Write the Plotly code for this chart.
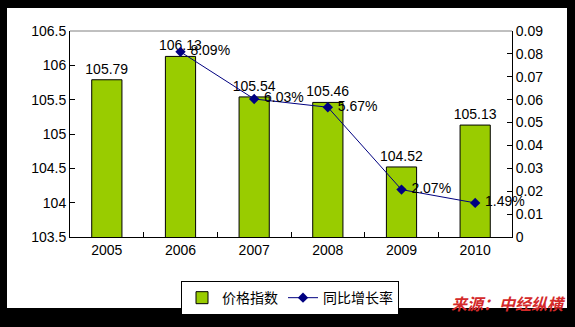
import plotly.graph_objects as go

years = ["2005", "2006", "2007", "2008", "2009", "2010"]
price_index = [105.79, 106.13, 105.54, 105.46, 104.52, 105.13]
growth_years = ["2006", "2007", "2008", "2009", "2010"]
growth_rate = [0.0809, 0.0603, 0.0567, 0.0207, 0.0149]
growth_labels = ["8.09%", "6.03%", "5.67%", "2.07%", "1.49%"]

W, H = 575, 327
L, R, T, B = 70, 63, 31, 81
pw, ph = W - L - R, H - T - B

def to_px(xp):
    return (xp - L) / pw

def to_py(yp):
    return (H - B - yp) / ph

FONT = "Liberation Sans, Arial, sans-serif"
CJK = "Noto Sans CJK SC, sans-serif"

fig = go.Figure()
fig.add_trace(go.Bar(
    x=years, y=price_index, name="价格指数",
    marker=dict(color="#99CC00", line=dict(color="black", width=1)),
    width=0.41,
    text=[f"{v:.2f}" for v in price_index], textposition="outside",
    textangle=0, constraintext="none",
    textfont=dict(family=FONT, size=14, color="black"),
    cliponaxis=False,
))
fig.add_trace(go.Scatter(
    x=growth_years, y=growth_rate, name="同比增长率", yaxis="y2",
    mode="lines+markers+text",
    text=[" " + t for t in growth_labels], textposition="middle right",
    textfont=dict(family=FONT, size=14, color="black"),
    line=dict(color="#000080", width=1),
    marker=dict(symbol="diamond", size=8, color="#000080"),
    cliponaxis=False,
))

annotations = [dict(x=to_px(568), y=to_py(315), xref="paper", yref="paper",
                    xanchor="right", yanchor="middle", showarrow=False,
                    text="<b><i>来源：中经纵横</i></b>",
                    font=dict(family=CJK, size=16, color="#D42A2A"))]

shapes = [
    dict(type="rect", xref="paper", yref="paper", layer="below",
         x0=to_px(7), x1=to_px(567), y0=to_py(320), y1=to_py(7),
         fillcolor="white", line=dict(width=0)),
    dict(type="line", xref="paper", yref="paper",
         x0=0, x1=1, y0=1, y1=1, line=dict(color="#808080", width=1)),
]

fig.update_layout(
    width=W, height=H,
    margin=dict(l=L, r=R, t=T, b=B),
    paper_bgcolor="black",
    plot_bgcolor="white",
    font=dict(family=FONT, size=14, color="black"),
    showlegend=True,
    legend=dict(orientation="h", x=to_px(290), xanchor="center",
                y=to_py(292), yanchor="top",
                bordercolor="black", borderwidth=1, bgcolor="white",
                font=dict(family=CJK, size=14)),
    xaxis=dict(type="category", showline=True, linecolor="black", linewidth=1,
               ticks="inside", tickson="boundaries", ticklen=5,
               tickcolor="black", showgrid=False, zeroline=False,
               tickangle=0, tickfont=dict(family=FONT, size=14)),
    yaxis=dict(range=[103.5, 106.5], dtick=0.5,
               showline=True, linecolor="black", linewidth=1,
               ticks="inside", ticklen=5, tickcolor="black",
               showgrid=False, zeroline=False,
               tickfont=dict(family=FONT, size=14)),
    yaxis2=dict(range=[0, 0.09], dtick=0.01, overlaying="y", side="right",
                showline=True, linecolor="black", linewidth=1,
                ticks="inside", ticklen=5, tickcolor="black",
                showgrid=False, zeroline=False,
                tickfont=dict(family=FONT, size=14)),
    annotations=annotations,
    shapes=shapes,
)

fig.write_html("out.html")
